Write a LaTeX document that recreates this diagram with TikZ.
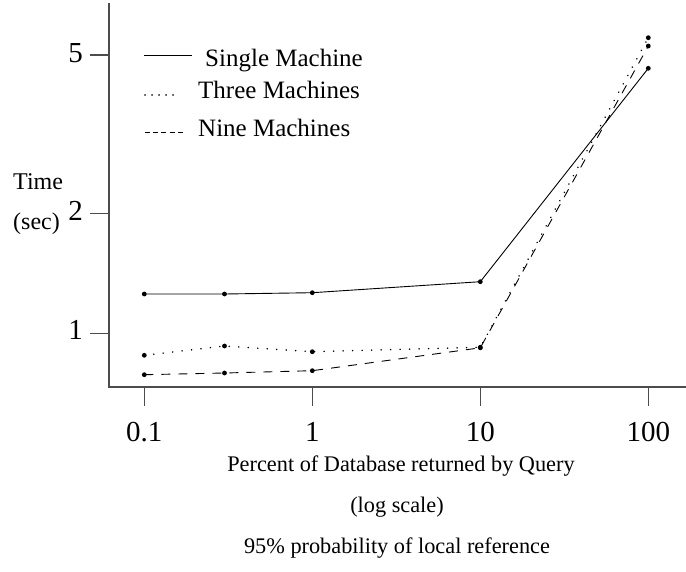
\documentclass[tikz,border=0pt]{standalone}
\usepackage{fontspec}
\setmainfont{Liberation Serif}
\begin{document}
\begin{tikzpicture}[x=1pt,y=-1pt,
  axisline/.style={line width=1.5pt, draw=black!70},
  series/.style={line width=0.9pt, black},
  dotline/.style={line width=1.6pt, black, dash pattern=on 0.1pt off 9.4pt, line cap=round},
  dashline/.style={series, dash pattern=on 9pt off 8pt},
  datapt/.style={circle, fill=black, inner sep=0pt, minimum size=4.8pt},
  ticklabel/.style={font=\fontsize{29}{32}\selectfont, inner sep=0pt},
  axislabel/.style={font=\fontsize{22.3}{26}\selectfont, inner sep=0pt, anchor=base},
  legendtext/.style={font=\fontsize{25}{28}\selectfont, inner sep=0pt, anchor=base west},
  sidelabel/.style={font=\fontsize{24}{28}\selectfont, inner sep=0pt, anchor=base west}
]
\useasboundingbox (0,0) rectangle (686,571);

% axes
\coordinate (ytop) at (109,3);
\coordinate (origin) at (109,387);
\coordinate (xend) at (686,387);
\draw[axisline] (ytop) -- (origin) -- (xend);

% y ticks (log scale)
\foreach \v/\y/\b in {5/55.1/62.7, 2/213.5/220.5, 1/333.3/339.5}{
  \coordinate (yt\v) at (109,\y);
  \coordinate (ys\v) at (90,\y);
  \draw[axisline] (ys\v) -- (yt\v);
  \node[ticklabel, anchor=base east] (yl\v) at (83,\b) {\v};
}

% x ticks (log scale)
\foreach \n/\x/\t in {a/144.3/0.1, b/312.3/1, c/480.3/10, d/648.3/100}{
  \coordinate (xt\n) at (\x,387);
  \coordinate (xs\n) at (\x,406);
  \draw[axisline] (xt\n) -- (xs\n);
  \node[ticklabel, anchor=base] (xl\n) at (\x,441) {\t};
}

% y axis title
\node[sidelabel] (ttime) at (13,189) {Time};
\node[sidelabel] (tsec) at (13,229) {(sec)};

% x axis titles
\node[axislabel] (xtitle) at (401,471.5) {Percent of Database returned by Query};
\node[axislabel] (xscale) at (397,512.5) {(log scale)};
\node[axislabel] (xnote) at (397,553.5) {95\% probability of local reference};

% data points
\foreach \i/\x/\ys/\yt/\yn in {1/144.3/294/355.3/374.7, 2/224.5/294/346/373, 3/312.3/292.7/351.7/370.7, 4/480.3/281.7/347.3/347.8, 5/648.3/68.3/37.7/46}{
  \node[datapt] (s\i) at (\x,\ys) {};
  \node[datapt] (t\i) at (\x,\yt) {};
  \node[datapt] (n\i) at (\x,\yn) {};
}

% series
\draw[series] (s1.center) -- (s2.center) -- (s3.center) -- (s4.center) -- (s5.center);
\draw[dotline] (t1.center) -- (t2.center) -- (t3.center) -- (t4.center) -- (t5.center);
\draw[dashline] (n1.center) -- (n2.center) -- (n3.center) -- (n4.center) -- (n5.center);

% legend
\coordinate (ls1) at (144,55);  \coordinate (ls2) at (192,55);
\coordinate (lt1) at (145,95);  \coordinate (lt2) at (174,95);
\coordinate (ln1) at (145,132); \coordinate (ln2) at (183,132);
\draw[series] (ls1) -- (ls2);
\draw[dotline, dash pattern=on 0.1pt off 6.9pt] (lt1) -- (lt2);
\draw[series, dash pattern=on 5pt off 3.2pt] (ln1) -- (ln2);
\node[legendtext] (lgs) at (205,66) {Single Machine};
\node[legendtext] (lgt) at (198,98) {Three Machines};
\node[legendtext] (lgn) at (198,136) {Nine Machines};
\end{tikzpicture}
\end{document}
